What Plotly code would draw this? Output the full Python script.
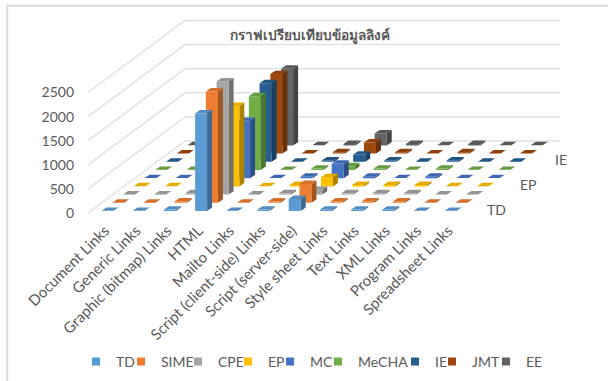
import plotly.graph_objects as go

title_text = "กราฟเปรียบเทียบข้อมูลลิงค์"
categories = ["Document Links", "Generic Links", "Graphic (bitmap) Links", "HTML", "Mailto Links",
              "Script (client-side) Links", "Script (server-side)", "Style sheet Links", "Text Links",
              "XML Links", "Program Links", "Spreadsheet Links"]
value_ticks = [0, 500, 1000, 1500, 2000, 2500]

# Link counts per tool, ordered front row to back row
series_names = ["TD", "SIME", "CPE", "EP", "MC", "MeCHA", "IE", "JMT", "EE"]
td = [3, 3, 30, 2025, 3, 30, 250, 30, 30, 30, 3, 3]
sime = [3, 3, 30, 2310, 3, 30, 390, 30, 30, 30, 3, 3]
cpe = [3, 3, 30, 2350, 3, 30, 100, 30, 30, 30, 3, 3]
ep = [3, 3, 30, 1670, 3, 30, 190, 30, 30, 30, 3, 3]
mc = [3, 3, 30, 1190, 3, 30, 300, 30, 3, 30, 3, 3]
mecha = [3, 3, 30, 1530, 3, 30, 80, 30, 3, 30, 3, 3]
ie = [3, 3, 30, 1630, 3, 30, 150, 30, 3, 30, 3, 3]
jmt = [3, 3, 30, 1650, 3, 30, 230, 30, 3, 30, 3, 3]
ee = [3, 3, 30, 1590, 3, 30, 250, 30, 3, 30, 3, 3]
series_values = [td, sime, cpe, ep, mc, mecha, ie, jmt, ee]

front_colors = ["#5B9BD5", "#ED7D31", "#A5A5A5", "#FFC000", "#4472C4", "#70AD47", "#255E91", "#9E480E", "#636363"]
legend_widths = [15, 27, 20, 12, 18, 47, 7, 24, 20]
depth_labels = {"TD": 0, "EP": 3, "IE": 6}

# Oblique projection: x in category slots, y in value units
PX_X = 31.2
PX_Y = 0.0482
ROW_DX = 10.75 / PX_X
ROW_DY = 8.2 / PX_Y
FLOOR_OFFSET = 2 / PX_Y
BAR_LEFT = -8.5 / PX_X
BAR_W = 12 / PX_X
BAR_DX = 5 / PX_X
BAR_DY = 3.4 / PX_Y
WALL_X = -22 / PX_X
WALL_DX = 97 / PX_X
WALL_DY = 72 / PX_Y
WALL_END = 450 / PX_X
LABEL_SHIFT = 5 / PX_X
TEXT = "#595959"


def shade(color, factor):
    rgb = [int(color[k:k + 2], 16) for k in (1, 3, 5)]
    return "rgb({},{},{})".format(*[round(c * factor) for c in rgb])


def polygons(faces):
    xs, ys = [], []
    for face in faces:
        xs += [p[0] for p in face] + [face[0][0], None]
        ys += [p[1] for p in face] + [face[0][1], None]
    return xs, ys


def bar_faces(i, row, value):
    x0 = i + row * ROW_DX + BAR_LEFT
    x1 = x0 + BAR_W
    base = FLOOR_OFFSET + row * ROW_DY
    top = base + value
    front = [(x0, base), (x1, base), (x1, top), (x0, top)]
    side = [(x1, base), (x1 + BAR_DX, base + BAR_DY), (x1 + BAR_DX, top + BAR_DY), (x1, top)]
    cap = [(x0, top), (x1, top), (x1 + BAR_DX, top + BAR_DY), (x0 + BAR_DX, top + BAR_DY)]
    return front, side, cap


fig = go.Figure()

# Left wall and back wall gridlines
for tick in value_ticks:
    fig.add_trace(go.Scatter(
        x=[WALL_X, WALL_X + WALL_DX, WALL_END], y=[tick, tick + WALL_DY, tick + WALL_DY],
        mode="lines", line=dict(color="#E2E2E2", width=1.5), hoverinfo="skip", showlegend=False))

# Bars, painted from the back row forward
for row in reversed(range(len(series_names))):
    faces = [bar_faces(i, row, v) for i, v in enumerate(series_values[row])]
    color = front_colors[row]
    for index, factor in ((1, 0.68), (2, 0.9), (0, 1.0)):
        xs, ys = polygons([f[index] for f in faces])
        fig.add_trace(go.Scatter(
            x=xs, y=ys, mode="lines", fill="toself", fillcolor=shade(color, factor),
            line=dict(width=0), hoverinfo="skip", showlegend=False))

# Legend entries
for rank, (name, color) in enumerate(zip(series_names, front_colors)):
    fig.add_trace(go.Scatter(
        x=[None], y=[None], mode="markers", name=name, legendrank=rank + 1,
        legendwidth=legend_widths[rank],
        marker=dict(symbol="square", size=8, color=color)))

annotations = [
    dict(x=len(categories) - 1 + depth_labels[n] * ROW_DX + 1.38,
         y=FLOOR_OFFSET + depth_labels[n] * ROW_DY + 40,
         text=n, showarrow=False, xref="x", yref="y",
         font=dict(family="Lato", size=14, color=TEXT))
    for n in depth_labels
]

fig.update_layout(
    width=608, height=381,
    margin=dict(l=80, r=8, t=10, b=159, autoexpand=False),
    paper_bgcolor="white", plot_bgcolor="rgba(0,0,0,0)",
    font=dict(family="Lato", size=14, color=TEXT),
    title=dict(text="<b>" + title_text + "</b>", x=310 / 608, y=1 - 35 / 381,
               xanchor="center", yanchor="middle",
               font=dict(family="Noto Sans", size=13.6, color="#595959")),
    xaxis=dict(range=[-30 / PX_X, 490 / PX_X], tickmode="array",
               tickvals=[i - LABEL_SHIFT for i in range(len(categories))], ticktext=categories,
               tickangle=-45, ticklen=0, ticklabelstandoff=-4, showgrid=False, zeroline=False,
               showline=False, tickfont=dict(family="Lato", size=15, color=TEXT)),
    yaxis=dict(range=[-9 / PX_Y, 203 / PX_Y], tickmode="array", tickvals=value_ticks,
               ticklen=0, ticklabelstandoff=5, showgrid=False, zeroline=False, showline=False,
               tickfont=dict(family="Lato", size=14, color=TEXT)),
    legend=dict(orientation="h", x=11 / 520, xanchor="left", y=-0.66, yanchor="middle",
                indentation=-15, traceorder="normal", font=dict(family="Lato", size=14, color=TEXT),
                bgcolor="rgba(0,0,0,0)"),
    annotations=annotations,
    shapes=[dict(type="path", xref="paper", yref="paper",
                 path="M -0.14 -0.76 L -0.14 1.02 L 1.02 1.02",
                 line=dict(color="#DCDCDC", width=2))],
)

fig.write_html("out.html")
